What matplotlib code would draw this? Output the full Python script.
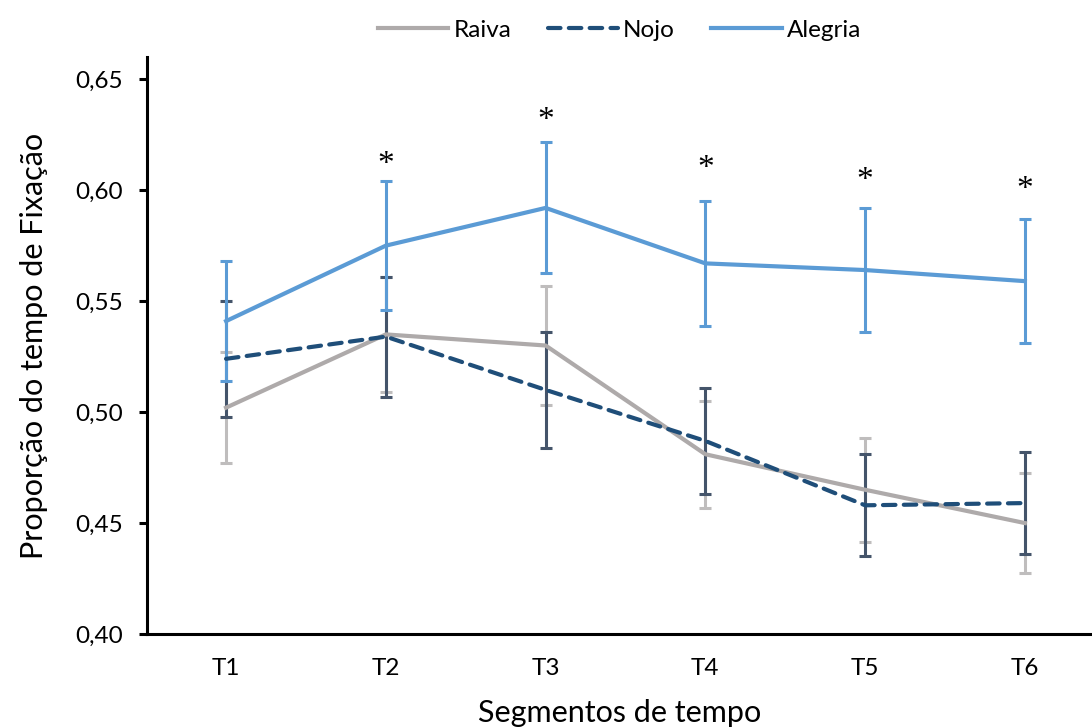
import matplotlib
matplotlib.use("Agg")
import matplotlib.pyplot as plt
import numpy as np

# Proporção do tempo de fixação por segmento de tempo
segments = ["T1", "T2", "T3", "T4", "T5", "T6"]
raiva = [0.502, 0.535, 0.530, 0.481, 0.465, 0.450]
raiva_err = [0.025, 0.026, 0.027, 0.024, 0.0235, 0.0225]
nojo = [0.524, 0.534, 0.510, 0.487, 0.458, 0.459]
nojo_err = [0.026, 0.027, 0.026, 0.024, 0.023, 0.023]
alegria = [0.541, 0.575, 0.592, 0.567, 0.564, 0.559]
alegria_err = [0.027, 0.029, 0.0295, 0.028, 0.028, 0.028]
# significance markers (segment index, label height)
sig_idx = [1, 2, 3, 4, 5]
sig_y = [0.6115, 0.6314, 0.6097, 0.6043, 0.6003]

plt.rcParams["font.family"] = ["Lato", "DejaVu Sans"]

fig = plt.figure(figsize=(10.92, 7.27), dpi=100)
ax = fig.add_axes([0.1346, 0.1279, 0.8654, 0.7937])

x = np.arange(len(segments))

ax.errorbar(x, raiva, yerr=raiva_err, fmt="none", ecolor="#BFBDBD",
            elinewidth=2.2, capsize=4.5, capthick=2.2, zorder=2)
ax.errorbar(x, nojo, yerr=nojo_err, fmt="none", ecolor="#44546A",
            elinewidth=2.2, capsize=4.5, capthick=2.2, zorder=3)
ax.errorbar(x, alegria, yerr=alegria_err, fmt="none", ecolor="#5B9BD5",
            elinewidth=2.2, capsize=4.5, capthick=2.2, zorder=4)

ax.plot(x, raiva, color="#AEAAAA", lw=3.0, label="Raiva", zorder=5)
ax.plot(x, nojo, color="#1F4E79", lw=3.0, ls=(0, (3.0, 2.0)),
        dash_capstyle="round", label="Nojo", zorder=6)
ax.plot(x, alegria, color="#5B9BD5", lw=3.0, label="Alegria", zorder=7)

for i, yy in zip(sig_idx, sig_y):
    ax.text(x[i], yy, "*", ha="center", va="center", fontsize=24,
            family="Liberation Serif", color="black")

ax.set_xlim(-0.495, 5.42)
ax.set_ylim(0.40, 0.66)
ticks = np.arange(0.40, 0.651, 0.05)
ax.set_yticks(ticks)
ax.set_yticklabels([f"{v:.2f}".replace(".", ",") for v in ticks])
ax.set_xticks(x)
ax.set_xticklabels(segments)

for side in ["top", "right"]:
    ax.spines[side].set_visible(False)
for side in ["left", "bottom"]:
    ax.spines[side].set_linewidth(2.2)

ax.tick_params(axis="y", direction="out", length=6, width=2.2, pad=11, labelsize=17.5)
ax.tick_params(axis="x", length=0, pad=17, labelsize=17.5)

ax.set_ylabel("Proporção do tempo de Fixação", fontsize=22, labelpad=20)
ax.set_xlabel("Segmentos de tempo", fontsize=22, labelpad=15)

ax.legend(loc="center", bbox_to_anchor=(0.5, 1.046), ncol=3, frameon=False,
          fontsize=17.5, handlelength=2.9, handletextpad=0.2, columnspacing=1.5)

fig.savefig("out.png", dpi=100)
